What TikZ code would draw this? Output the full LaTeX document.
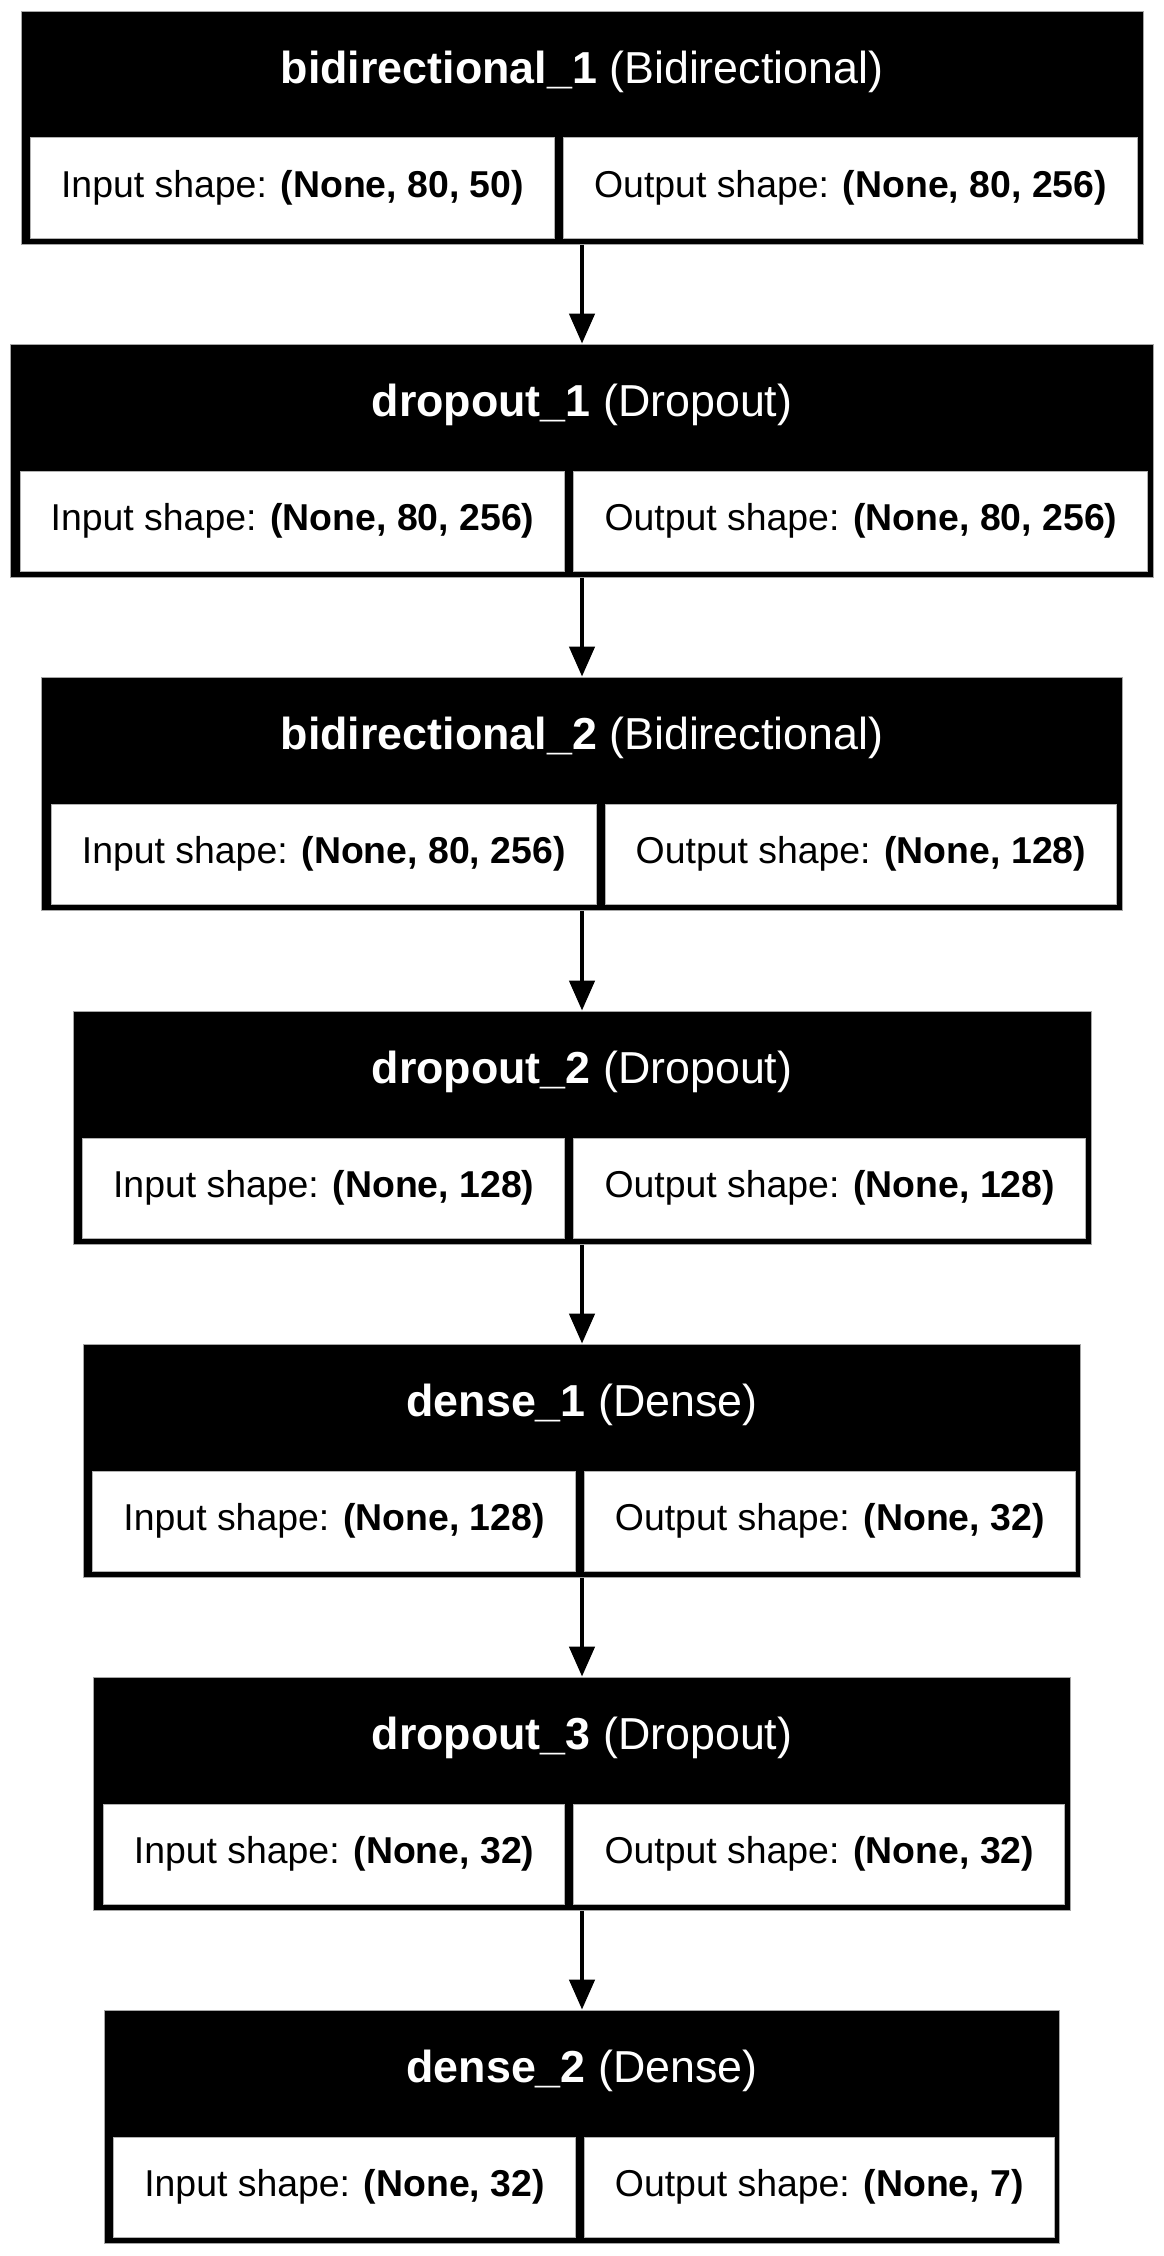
\documentclass[tikz,border=0pt]{standalone}
\usepackage{fontspec}
\setmainfont{Liberation Sans}
\usetikzlibrary{arrows.meta}
\newcommand\cellfont{\fontsize{37.4}{44}\selectfont}
\newcommand\titlefont{\fontsize{44.8}{52}\selectfont}
\tikzset{
  outerbox/.style={fill=black, draw=gray!70, line width=0.8pt, inner sep=0pt, minimum height=233.5pt},
  cellbox/.style={fill=white, draw=gray!60, line width=1pt, inner sep=0pt, minimum height=100pt, font=\cellfont, anchor=north west},
  titletext/.style={text=white, font=\titlefont, inner sep=0pt},
  conn/.style={line width=4.5pt, -{Triangle[length=30pt,width=25pt]}}
}
% #1 name, #2 top, #3 bold title, #4 regular title, #5 input, #6 output, #7 input text width, #8 output text width
\newcommand\layerbox[8]{%
  \pgfmathsetmacro\cellwl{#7+64.6}%
  \pgfmathsetmacro\cellwr{#8+64.6}%
  \pgfmathsetmacro\boxW{\cellwl+\cellwr+24}%
  \pgfmathsetmacro\boxL{582-\boxW/2}%
  \node[outerbox, minimum width=\boxW pt] (#1) at (582,#2+116.75) {};
  \node[titletext] (#1t) at (582,#2+61) {\textbf{#3} #4};
  \node[cellbox, minimum width=\cellwl pt] (#1in) at (\boxL+9,#2+126.5) {Input shape: \textbf{#5}};
  \node[cellbox, minimum width=\cellwr pt] (#1out) at (\boxL+18+\cellwl,#2+126.5) {Output shape: \textbf{#6}};
}
\begin{document}
\begin{tikzpicture}[x=1pt,y=-1pt]
  \useasboundingbox (0,0) rectangle (1164,2256);
  \layerbox{b1}{11}{bidirectional\_1}{(Bidirectional)}{(None, 80, 50)}{(None, 80, 256)}{459.42}{509.31}
  \layerbox{b2}{344}{dropout\_1}{(Dropout)}{(None, 80, 256)}{(None, 80, 256)}{480.22}{509.31}
  \layerbox{b3}{677}{bidirectional\_2}{(Bidirectional)}{(None, 80, 256)}{(None, 128)}{480.22}{446.93}
  \layerbox{b4}{1011}{dropout\_2}{(Dropout)}{(None, 128)}{(None, 128)}{417.83}{446.93}
  \layerbox{b5}{1344}{dense\_1}{(Dense)}{(None, 128)}{(None, 32)}{417.83}{426.14}
  \layerbox{b6}{1677}{dropout\_3}{(Dropout)}{(None, 32)}{(None, 32)}{397.04}{426.14}
  \layerbox{b7}{2010}{dense\_2}{(Dense)}{(None, 32)}{(None, 7)}{397.04}{405.34}
  \draw[conn] (b1.south) -- (b2.north);
  \draw[conn] (b2.south) -- (b3.north);
  \draw[conn] (b3.south) -- (b4.north);
  \draw[conn] (b4.south) -- (b5.north);
  \draw[conn] (b5.south) -- (b6.north);
  \draw[conn] (b6.south) -- (b7.north);
\end{tikzpicture}
\end{document}
